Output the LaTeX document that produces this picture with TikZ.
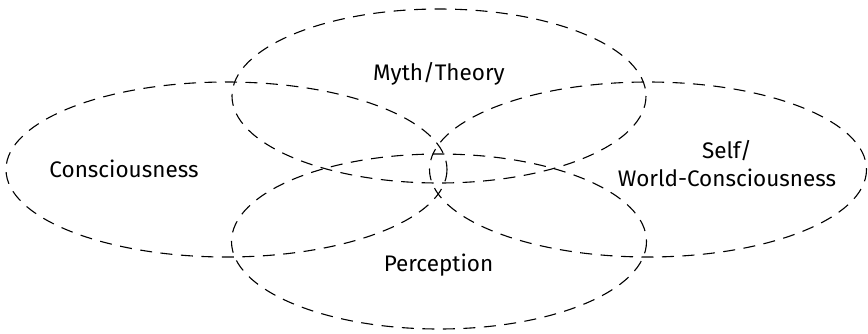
\documentclass[tikz,border=0pt]{standalone}
\usepackage{fontspec}
\setmainfont{Fira Sans}
\begin{document}
\begin{tikzpicture}[x=1pt,y=-1pt,
  ring/.style={draw=black,line width=1.1pt,dash pattern=on 12pt off 8.5pt},
  lbl/.style={font=\fontsize{22.5}{28}\selectfont,align=center,inner sep=0pt}]
\useasboundingbox (0,0) rectangle (868,333);
\draw[ring] (226.5,169.5) ellipse [x radius=220.5, y radius=87.5];
\draw[ring] (439,96) ellipse [x radius=207, y radius=87];
\draw[ring] (648,169.5) ellipse [x radius=218.5, y radius=87.5];
\draw[ring] (439,241.5) ellipse [x radius=207.5, y radius=87.5];
\node[lbl] (cons) at (124,169) {Consciousness};
\node[lbl] (myth) at (439,74) {Myth/Theory};
\node[lbl] (perc) at (438.5,265) {Perception};
\node[lbl] (self) at (727,164) {Self/\\World-Consciousness};
\end{tikzpicture}
\end{document}
